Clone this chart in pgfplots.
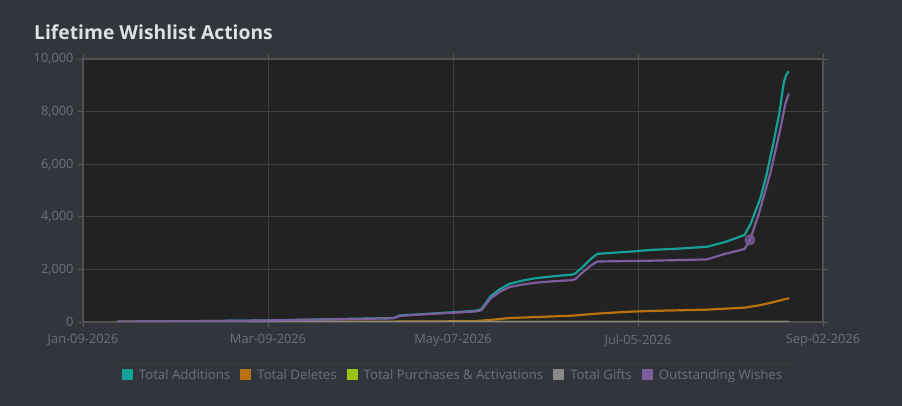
\documentclass[border=0pt]{standalone}
\usepackage{pgfplots}
\pgfplotsset{compat=1.18}
\usepackage{fontspec}
\setmainfont{Open Sans}
\definecolor{bgc}{HTML}{32353C}
\definecolor{plotbg}{HTML}{222222}
\definecolor{gridc}{HTML}{3E3E3E}
\definecolor{tickc}{HTML}{6E7177}
\definecolor{titlec}{HTML}{DDE1E4}
\definecolor{cadd}{HTML}{16A196}
\definecolor{cdel}{HTML}{B8720E}
\definecolor{cpur}{HTML}{9AC313}
\definecolor{cgift}{HTML}{8A8A88}
\definecolor{cwish}{HTML}{7C5E9E}
\begin{document}
\begin{tikzpicture}
\fill[bgc] (0,0) rectangle (902bp,406bp);
\node[anchor=base west, text=titlec, font=\fontsize{19.3bp}{21bp}\selectfont\bfseries, inner sep=0pt] at (34bp,366bp) {Lifetime Wishlist Actions};
\draw[gridc!80!bgc, line width=0.8bp] (117bp,42bp) -- (792bp,42bp);
\begin{axis}[
  at={(83bp,84bp)}, anchor=south west,
  scale only axis, width=740bp, height=263bp,
  xmin=0, xmax=236, ymin=0, ymax=10000,
  axis background/.style={fill=plotbg},
  axis line style={draw=gridc!70!gray, line width=1.2bp},
  grid=major, grid style={draw=gridc, line width=0.8bp},
  xtick={0,59,118,177,236},
  xticklabels={Jan-09-2026,Mar-09-2026,May-07-2026,Jul-05-2026,Sep-02-2026},
  ytick={0,2000,4000,6000,8000,10000},
  /pgf/number format/assume math mode=true,
  /pgf/number format/1000 sep={,},
  scaled y ticks=false,
  tick align=outside, major tick length=5bp,
  tick style={draw=gridc!60!gray, line width=0.8bp},
  ticklabel style={text=tickc, font=\fontsize{12.8bp}{14bp}\selectfont},
  xticklabel style={yshift=-4bp},
  yticklabel style={xshift=-1bp},
  every axis plot/.append style={line width=2.2bp, line join=round, line cap=round},
  legend columns=-1,
  legend style={at={(0.5,-0.2015)}, anchor=center, draw=none, fill=none,
    text=tickc, font=\fontsize{13.2bp}{15bp}\selectfont,
    /tikz/every even column/.append style={column sep=8bp}},
  legend image code/.code={\fill[#1,draw=none] (0bp,-5bp) rectangle (11bp,6bp); \path (14bp,0bp);},
]
\addplot[color=cadd] coordinates {
(11,10) (30,25) (59,60) (85,120) (99,150) (101,250) (107,290) (125,420) (127,480)
(130,980) (133,1250) (136,1450) (140,1570) (144,1660) (150,1740) (156,1800) (157,1850)
(159,2050) (162,2400) (164,2590) (170,2640) (175,2680) (181,2740) (190,2790) (199,2860)
(205,3050) (211,3310) (213,3750) (216,4700) (218,5600) (220,6700) (222,7900) (223.5,9100)
(224.2,9380) (225,9520)};
\addlegendentry{Total Additions}
\addplot[color=cdel] coordinates {
(11,0) (59,5) (100,15) (125,30) (130,80) (136,150) (145,190) (156,240) (164,320)
(174,390) (181,420) (199,470) (211,545) (216,640) (220,750) (225,900)};
\addlegendentry{Total Deletes}
\addplot[color=cpur] coordinates {(11,0) (225,2)};
\addlegendentry{Total Purchases \& Activations}
\addplot[color=cgift] coordinates {(11,0) (225,4)};
\addlegendentry{Total Gifts}
\addplot[color=cwish] coordinates {
(11,10) (30,25) (59,60) (85,110) (99,140) (101,230) (107,280) (125,400) (127,440)
(130,900) (133,1150) (136,1330) (140,1420) (144,1490) (150,1550) (156,1590) (157,1630)
(159,1850) (162,2150) (164,2300) (181,2330) (199,2380) (205,2600) (211,2775) (212.7,3120)
(215.5,4100) (219.3,5700) (222.5,7400) (224,8300) (225,8660)};
\addlegendentry{Outstanding Wishes}
\addplot[only marks, mark=*, mark size=4.5bp, color=cwish, opacity=0.7, forget plot] coordinates {(212.7,3120)};
\end{axis}
\pgfresetboundingbox
\useasboundingbox (0,0) rectangle (902bp,406bp);
\end{tikzpicture}
\end{document}
